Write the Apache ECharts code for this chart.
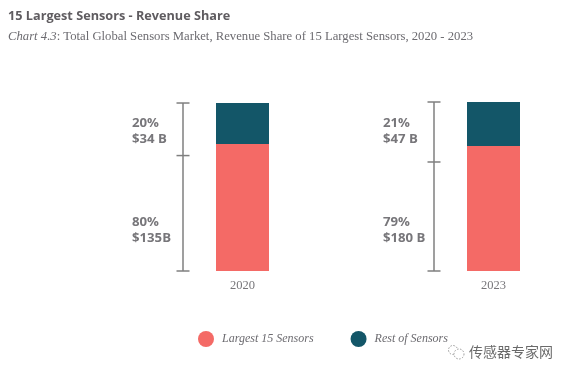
<!DOCTYPE html>
<html><head><meta charset="utf-8">
<style>html,body{margin:0;padding:0;background:#fff}#c{width:569px;height:378px}</style>
<script src="https://cdn.jsdelivr.net/npm/echarts@6/dist/echarts.min.js"></script>
</head><body><div id="c"></div>
<script>
const categories = ['2020', '2023'];
const largestShareDrawn = [75.1, 74.0];
const restShareDrawn = [24.3, 26.0];
const bracketLow = [0, 0];
const bracketMid = [68.3, 64.5];
const bracketHigh = [99.4, 100];
const upperLabels = ['20%\n$34 B', '21%\n$47 B'];
const lowerLabels = ['80%\n$135B', '79%\n$180 B'];
const upperLabelAt = [82.5, 82.8];
const lowerLabelAt = [24.0, 24.0];
const seriesNames = ['Largest 15 Sensors', 'Rest of Sensors'];
const colors = ['#F46A66', '#135668'];
const greyText = '#77767a';
const serif = '"Liberation Serif", serif';

const chart = echarts.init(document.getElementById('c'), null, {renderer: 'canvas'});

function bracketItem(params, api) {
  const i = api.value(0);
  const x = api.coord([i, 0])[0] - 59.5;
  const ys = [api.value(1), api.value(2), api.value(3)].map(v => api.coord([i, v])[1]);
  const st = {stroke: '#7f7f7f', lineWidth: 1.5, fill: 'none'};
  const kids = [{type: 'line', shape: {x1: x, y1: ys[0], x2: x, y2: ys[2]}, style: st}];
  ys.forEach(y => kids.push({type: 'line', shape: {x1: x - 6.5, y1: y, x2: x + 6.5, y2: y}, style: st}));
  return {type: 'group', children: kids};
}
function labelItem(texts) {
  return function (params, api) {
    const i = api.value(0);
    const p = api.coord([i, api.value(1)]);
    return {type: 'text', x: p[0] - 110.5, y: p[1], style: {
      text: texts[i], fill: greyText, font: 'bold 13.2px "Open Sans"',
      lineHeight: 16, verticalAlign: 'middle', align: 'left'
    }};
  };
}

chart.setOption({
  animation: false,
  backgroundColor: '#fff',
  title: [
    {text: '15 Largest Sensors - Revenue Share', left: 8, top: 10, padding: 0,
     textStyle: {fontFamily: '"Open Sans"', fontWeight: 'bold', fontSize: 12.7, color: '#5f5c60'}},
    {text: '{i|Chart 4.3}: Total Global Sensors Market, Revenue Share of 15 Largest Sensors, 2020 - 2023',
     left: 8, top: 30, padding: 0,
     textStyle: {fontFamily: serif, fontWeight: 'normal', fontSize: 12.7, color: '#6c6b70',
       rich: {i: {fontFamily: serif, fontWeight: 'normal', fontStyle: 'italic', fontSize: 12.7, color: '#6c6b70'}}}}
  ],
  grid: {left: 242.5, right: 75.5, top: 102, bottom: 107},
  xAxis: {type: 'category', data: categories, boundaryGap: false,
    axisLine: {show: false}, axisTick: {show: false},
    axisLabel: {color: greyText, fontFamily: serif, fontSize: 12.5, margin: 8, interval: 0, showMinLabel: true, showMaxLabel: true}},
  yAxis: {type: 'value', min: 0, max: 100, show: false},
  legend: {
    data: seriesNames, left: 198, top: 331, orient: 'horizontal', padding: 0,
    icon: 'circle', itemWidth: 16, itemHeight: 16, itemGap: 37,
    selectedMode: false,
    textStyle: {fontFamily: serif, fontStyle: 'italic', fontSize: 12, color: '#6c6b70', padding: [1, 0, 0, 3]}
  },
  series: [
    {name: seriesNames[0], type: 'bar', stack: 's', barWidth: 53, clip: false, data: largestShareDrawn, itemStyle: {color: colors[0]}},
    {name: seriesNames[1], type: 'bar', stack: 's', barWidth: 53, clip: false, data: restShareDrawn, itemStyle: {color: colors[1]}},
    {type: 'custom', renderItem: bracketItem, silent: true, clip: false,
     data: categories.map((c, i) => [i, bracketLow[i], bracketMid[i], bracketHigh[i]]),
     encode: {x: 0, y: [1, 2, 3]}},
    {type: 'custom', renderItem: labelItem(upperLabels), silent: true, clip: false,
     data: categories.map((c, i) => [i, upperLabelAt[i]]), encode: {x: 0, y: 1}},
    {type: 'custom', renderItem: labelItem(lowerLabels), silent: true, clip: false,
     data: categories.map((c, i) => [i, lowerLabelAt[i]]), encode: {x: 0, y: 1}}
  ],
  graphic: [
    {type: 'circle', shape: {cx: 453, cy: 350, r: 4.5}, style: {fill: '#fff', stroke: '#9a9a9a', lineWidth: 1, lineDash: [1.5, 1.5]}},
    {type: 'circle', shape: {cx: 459, cy: 354, r: 5}, style: {fill: '#fff', stroke: '#9a9a9a', lineWidth: 1, lineDash: [1.5, 1.5]}},
    {type: 'text', left: 469, top: 345, style: {text: '传感器专家网', fill: '#6a6a6a', font: '14px "Noto Sans CJK SC"'}}
  ]
});
</script></body></html>
